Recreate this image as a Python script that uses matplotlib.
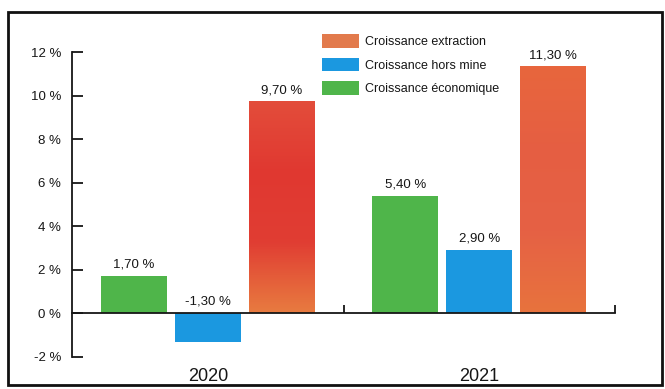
import numpy as np
import matplotlib
matplotlib.use("Agg")
import matplotlib.pyplot as plt
from matplotlib.patches import Rectangle, Patch
from matplotlib.colors import LinearSegmentedColormap

plt.rcParams['font.family'] = ['Liberation Sans', 'DejaVu Sans']

years = ['2020', '2021']
series = ['Croissance économique', 'Croissance hors mine', 'Croissance extraction']
eco = [1.7, 5.4]
hors_mine = [-1.3, 2.9]
extraction = [9.7, 11.3]
yticks = [-2, 0, 2, 4, 6, 8, 10, 12]

green = '#4fb54a'
blue = '#1b98e0'
orange = '#e27a4c'
ink = '#161616'

fig = plt.figure(figsize=(6.65, 3.89), dpi=100)
ax = fig.add_axes([0.1083, 0.0823, 0.8165, 0.784])

x = np.arange(len(years))
w = 0.243
off = 0.272

b1 = ax.bar(x - off, eco, w, color=green, zorder=2)
b2 = ax.bar(x, hors_mine, w, color=blue, zorder=2)
b3 = ax.bar(x + off, extraction, w, color=orange, zorder=2)

# dégradé sur les barres extraction (scan)
grads = [
    [(0.89, 0.30, 0.23), (0.88, 0.22, 0.19), (0.88, 0.24, 0.20), (0.91, 0.48, 0.25)],
    [(0.91, 0.40, 0.24), (0.90, 0.37, 0.26), (0.90, 0.38, 0.27), (0.91, 0.45, 0.24)],
]
for bar, g in zip(b3, grads):
    cm = LinearSegmentedColormap.from_list('g', g[::-1])
    x0, w0, h0 = bar.get_x(), bar.get_width(), bar.get_height()
    grad = np.linspace(0, 1, 100).reshape(-1, 1)
    ax.imshow(grad, cmap=cm, origin='lower', aspect='auto',
              extent=(x0, x0 + w0, 0, h0), zorder=3)

for bars, vals in [(b1, eco), (b2, hors_mine), (b3, extraction)]:
    for bar, v in zip(bars, vals):
        txt = ('%.2f %%' % v).replace('.', ',')
        ax.text(bar.get_x() + bar.get_width() / 2, max(v, 0) + 0.25, txt,
                ha='center', va='bottom', fontsize=9.5, color=ink, zorder=4)

ax.set_xlim(-0.5, 1.5)
ax.set_ylim(-2, 12)
ax.set_yticks(yticks)
ax.set_yticklabels(['%d %%' % t for t in yticks], fontsize=9.5, color=ink)
ax.tick_params(axis='y', direction='in', length=8, width=1.3, pad=8, color=ink)

ax.spines['top'].set_visible(False)
ax.spines['right'].set_visible(False)
ax.spines['left'].set_linewidth(1.3)
ax.spines['left'].set_color(ink)
ax.spines['bottom'].set_position(('data', 0))
ax.spines['bottom'].set_linewidth(1.3)
ax.spines['bottom'].set_color(ink)
ax.spines['bottom'].set_zorder(5)
ax.set_xticks([0.5, 1.5])
ax.set_xticklabels([])
ax.tick_params(axis='x', direction='in', length=6, width=1.3, color=ink)

for i, yr in enumerate(years):
    ax.text(i, -0.035, yr, transform=ax.get_xaxis_transform(), ha='center', va='top',
            fontsize=13, color=ink)

handles = [Patch(facecolor=orange), Patch(facecolor=blue), Patch(facecolor=green)]
labels = [series[2], series[1], series[0]]
fig.legend(handles, labels, loc='upper left', bbox_to_anchor=(0.476, 0.925),
           frameon=False, fontsize=9, handlelength=3.0, handleheight=1.3,
           handletextpad=0.5, labelspacing=0.75, borderaxespad=0,
           labelcolor=ink)

fig.patches.append(Rectangle((8 / 665, 4 / 389), 654 / 665, 373 / 389,
                             transform=fig.transFigure, fill=False,
                             edgecolor='#111111', linewidth=2))

fig.savefig('out.png', dpi=100)
